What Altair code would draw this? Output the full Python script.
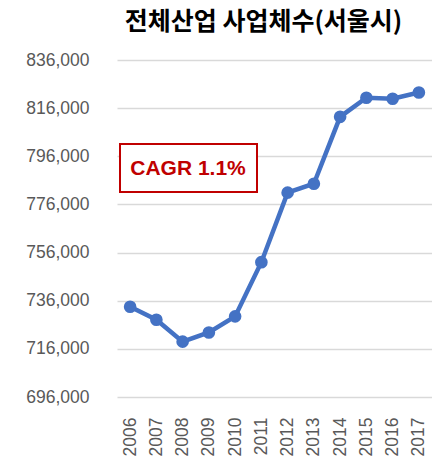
import altair as alt
import pandas as pd

years = ["2006", "2007", "2008", "2009", "2010", "2011", "2012", "2013", "2014", "2015", "2016", "2017"]
counts = [733500, 728100, 719000, 722800, 729500, 752000, 780900, 784600, 812400, 820300, 819900, 822500]
y_ticks = [696000, 716000, 736000, 756000, 776000, 796000, 816000, 836000]
title_text = "전체산업 사업체수(서울시)"
note_text = "CAGR 1.1%"

df = pd.DataFrame({"year": years, "count": counts})

W, H = 315, 337
x_enc = alt.X("year:N", sort=years, title=None,
              scale=alt.Scale(type="point", padding=0.5),
              axis=alt.Axis(labelAngle=-90, labelFont="Liberation Sans", labelFontSize=17.5,
                            labelColor="#595959", domain=False, ticks=False, grid=False,
                            labelPadding=20, labelAlign="right", labelBaseline="middle"))
y_enc = alt.Y("count:Q", title=None,
              scale=alt.Scale(domain=[696000, 836000], nice=False, zero=False),
              axis=alt.Axis(values=y_ticks, format=",d", labelFont="Liberation Sans",
                            labelFontSize=17.5, labelColor="#595959", domain=False, ticks=False,
                            labelPadding=28, gridColor="#D9D9D9", gridWidth=1.5))

line = alt.Chart(df).mark_line(color="#4472C4", strokeWidth=4.5).encode(x=x_enc, y=y_enc)
pts = alt.Chart(df).mark_circle(color="#4472C4", size=160, opacity=1).encode(x=x_enc, y=y_enc)

box = alt.Chart(pd.DataFrame({"t": [note_text]})).mark_rect(
    fill="white", stroke="#C00000", strokeWidth=2
).encode(x=alt.value(3), x2=alt.value(140), y=alt.value(84), y2=alt.value(132))
note = alt.Chart(pd.DataFrame({"t": [note_text]})).mark_text(
    font="Liberation Sans", fontSize=21, fontWeight="bold", color="#C00000",
    align="center", baseline="middle"
).encode(text="t:N", x=alt.value(71), y=alt.value(109))

chart = alt.layer(line, pts, box, note).properties(
    width=W, height=H,
    background="white",
    title=alt.TitleParams(title_text, font="Noto Sans CJK KR", fontSize=25, fontWeight="bold",
                          color="#000000", anchor="middle", dx=-11, offset=16),
    autosize=alt.AutoSizeParams(type="none"),
    padding={"left": 117, "top": 60, "right": 0, "bottom": 66},
).configure_view(stroke=None).configure_axisX(grid=False)

chart.save("out.html", embed_options={"renderer": "svg", "actions": False})
